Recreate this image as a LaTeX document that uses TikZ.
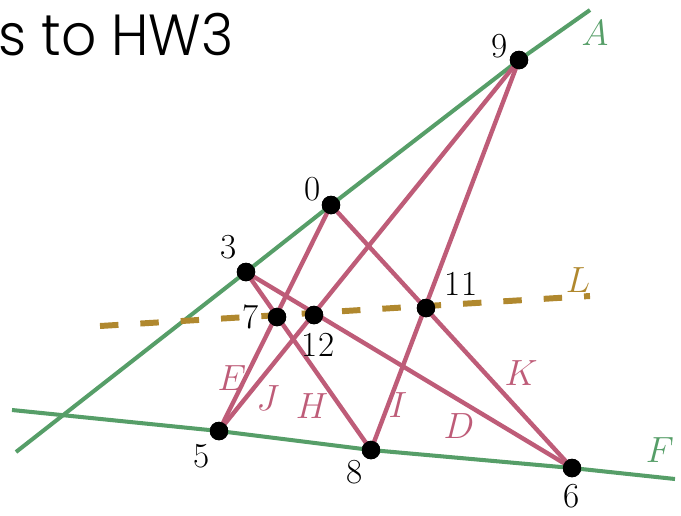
\documentclass[tikz,border=0pt]{standalone}
\usepackage{fontspec}
\usepackage{xcolor}
\usepackage{tikz}
\usetikzlibrary{positioning}
\newfontfamily\titlefont{Poppins}[UprightFont=* Light]
\definecolor{lineGreen}{RGB}{86,158,104}
\definecolor{linePink}{RGB}{190,92,120}
\definecolor{lineGold}{RGB}{176,136,46}

\begin{document}
\begin{tikzpicture}[x=0.02cm, y=-0.02cm,
    pt/.style={circle, fill=black, inner sep=0pt, minimum size=0.37cm},
    num/.style={inner sep=0pt, font=\fontsize{20}{22}\selectfont},
    seglabel/.style={inner sep=0pt, text=linePink, font=\fontsize{22}{24}\selectfont},
    seg/.style={linePink, line width=2.5pt}]
    \useasboundingbox (0,0) rectangle (681,515);
    % heading, cut at the left edge
    \node[anchor=base west, inner sep=0pt, xscale=0.95, transform shape, font=\titlefont\fontsize{33}{36}\selectfont] (title) at (-2,55) {s to HW3};
    % the points
    \node[pt] (p9) at (519,60) {};
    \node[pt] (p0) at (331,205) {};
    \node[pt] (p3) at (246,272) {};
    \node[pt] (p7) at (277,317) {};
    \node[pt] (p12) at (314,315) {};
    \node[pt] (p11) at (426,308) {};
    \node[pt] (p5) at (219,431) {};
    \node[pt] (p8) at (371,450) {};
    \node[pt] (p6) at (572,468) {};
    % ends of the long lines
    \coordinate (a1) at (16,452);
    \coordinate (a2) at (590,10);
    \coordinate (f1) at (12,410);
    \coordinate (f2) at (675,479);
    \coordinate (l1) at (100,326);
    \coordinate (l2) at (590,296);
    \draw[lineGreen, line width=2.3pt] (a1) -- (p3.center) -- (p0.center) -- (p9.center) -- (a2);
    \draw[lineGreen, line width=2.3pt] (f1) -- (p5.center) -- (p8.center) -- (p6.center) -- (f2);
    \draw[lineGold, line width=3.4pt, dash pattern=on 10.5pt off 12.5pt] (l1) -- (l2);
    \draw[seg] (p5.center) -- (p0.center);
    \draw[seg] (p5.center) -- (p9.center);
    \draw[seg] (p3.center) -- (p8.center);
    \draw[seg] (p8.center) -- (p9.center);
    \draw[seg] (p3.center) -- (p6.center);
    \draw[seg] (p0.center) -- (p6.center);
    \foreach \p in {p9,p0,p3,p7,p12,p11,p5,p8,p6}
      \node[pt] at (\p) {};
    % point numbers
    \node[num] (n9) at (500,46) {9};
    \node[num] (n0) at (313,189) {0};
    \node[num] (n3) at (229,247) {3};
    \node[num, left=0.17cm of p7] (n7) {7};
    \node[num] (n12) at (318,345) {12};
    \node[num] (n11) at (461,284) {11};
    \node[num] (n5) at (202,456) {5};
    \node[num] (n8) at (355,472) {8};
    \node[num, below=0.12cm of p6] (n6) {6};
    % line names
    \node[seglabel] (lE) at (232,378) {$E$};
    \node[seglabel] (lJ) at (268,398) {$J$};
    \node[seglabel] (lH) at (312,406) {$H$};
    \node[seglabel] (lI) at (398,405) {$I$};
    \node[seglabel] (lD) at (459,426) {$D$};
    \node[seglabel] (lK) at (521,373) {$K$};
    \node[seglabel, text=lineGold] (lL) at (578,280) {$L$};
    \node[seglabel, text=lineGreen] (lA) at (595,33) {$A$};
    \node[seglabel, text=lineGreen] (lF) at (660,450) {$F$};
\end{tikzpicture}
\end{document}
